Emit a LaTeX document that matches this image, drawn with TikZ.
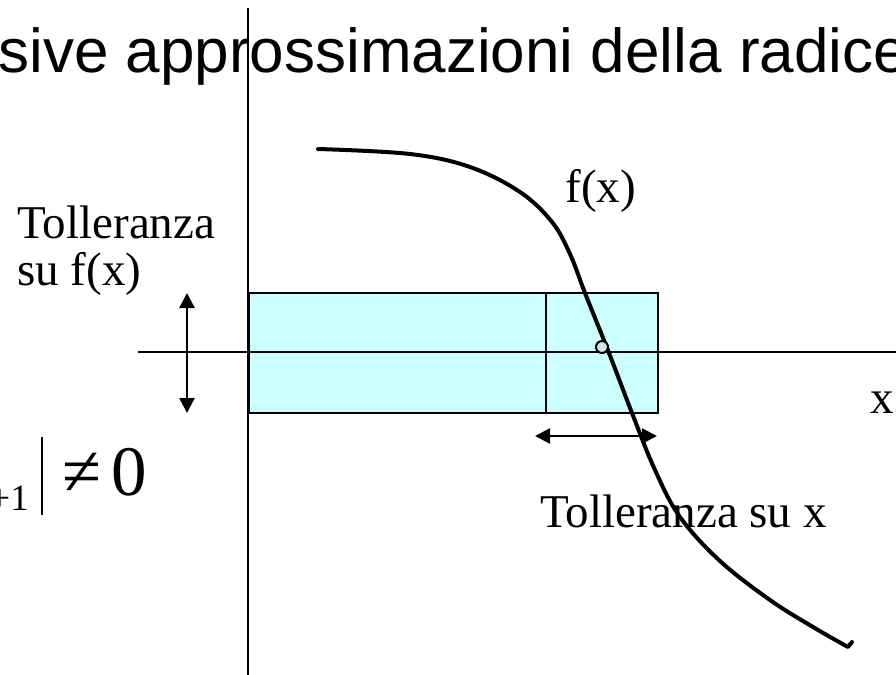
\documentclass[tikz,border=0pt]{standalone}
\usepackage{fontspec}
\setmainfont{Liberation Serif}
\newfontfamily\titlefont{Liberation Sans}
\usetikzlibrary{arrows.meta}

\definecolor{tolband}{RGB}{204,255,255}
\definecolor{rootdot}{RGB}{204,230,230}

\begin{document}
\begin{tikzpicture}[x=0.5pt, y=-0.5pt,
  axis/.style={line width=1pt},
  band/.style={draw, line width=1pt, fill=tolband},
  tol/.style={{Triangle[length=7.5pt,width=7.5pt]}-{Triangle[length=7.5pt,width=7.5pt]}, line width=1.2pt},
  lbl/.style={inner sep=0, anchor=base west, font=\fontsize{23.5}{23.5}\selectfont},
]
\useasboundingbox (0,0) rectangle (896,675);

%% Title
\node[inner sep=0, anchor=base west, font=\titlefont\fontsize{31}{36}\selectfont] (title) at (-2,72) {sive approssimazioni della radice};

%% Tolerance band
\filldraw[band] (249,293) rectangle (658,413);
\draw[axis] (546,293) -- (546,413);

%% Axes
\draw[line width=0.75pt] (248,8) -- (248,675);
\draw[axis] (138,352) -- (896,352);

%% f(x)
\draw[line width=2pt, line cap=round, line join=round]
  plot[smooth, tension=0.6] coordinates {(318,149) (410,154) (470,167) (520,192)
    (552,222) (570,254) (585,293) (609,353) (632,413) (655,470) (680,517)
    (720,561) (770,600) (813,627) (848,647)} -- (852,642);
\node[circle, draw, line width=1pt, fill=rootdot, inner sep=0, minimum size=6pt] (root) at (602,347) {};

%% Tolerance arrows
\coordinate (fytop) at (187,293);
\coordinate (fybot) at (187,413);
\draw[tol] (fytop) -- (fybot);
\coordinate (xleft) at (535,436);
\coordinate (xright) at (657,436);
\draw[tol] (xleft) -- (xright);

%% Labels
\node[lbl] (tolf) at (17,238) {Tolleranza};
\node[lbl] (tolfsu) at (17,285) {su f(x)};
\node[lbl] (fx) at (565,202) {f(x)};
\node[lbl] (xlbl) at (870,413) {x};
\node[lbl, anchor=base east] (tolx) at (827,527) {Tolleranza su x};

%% Stop condition
\node[inner sep=0, anchor=base west, font=\fontsize{35.5}{40}\selectfont] (cond) at (-11,495)
  {\raisebox{-7.5pt}{\fontsize{18.5}{20}\selectfont +1}\hspace{6pt}\rule[-10pt]{1pt}{39pt}\hspace{10pt}≠\hspace{5pt}0};

\end{tikzpicture}
\end{document}
